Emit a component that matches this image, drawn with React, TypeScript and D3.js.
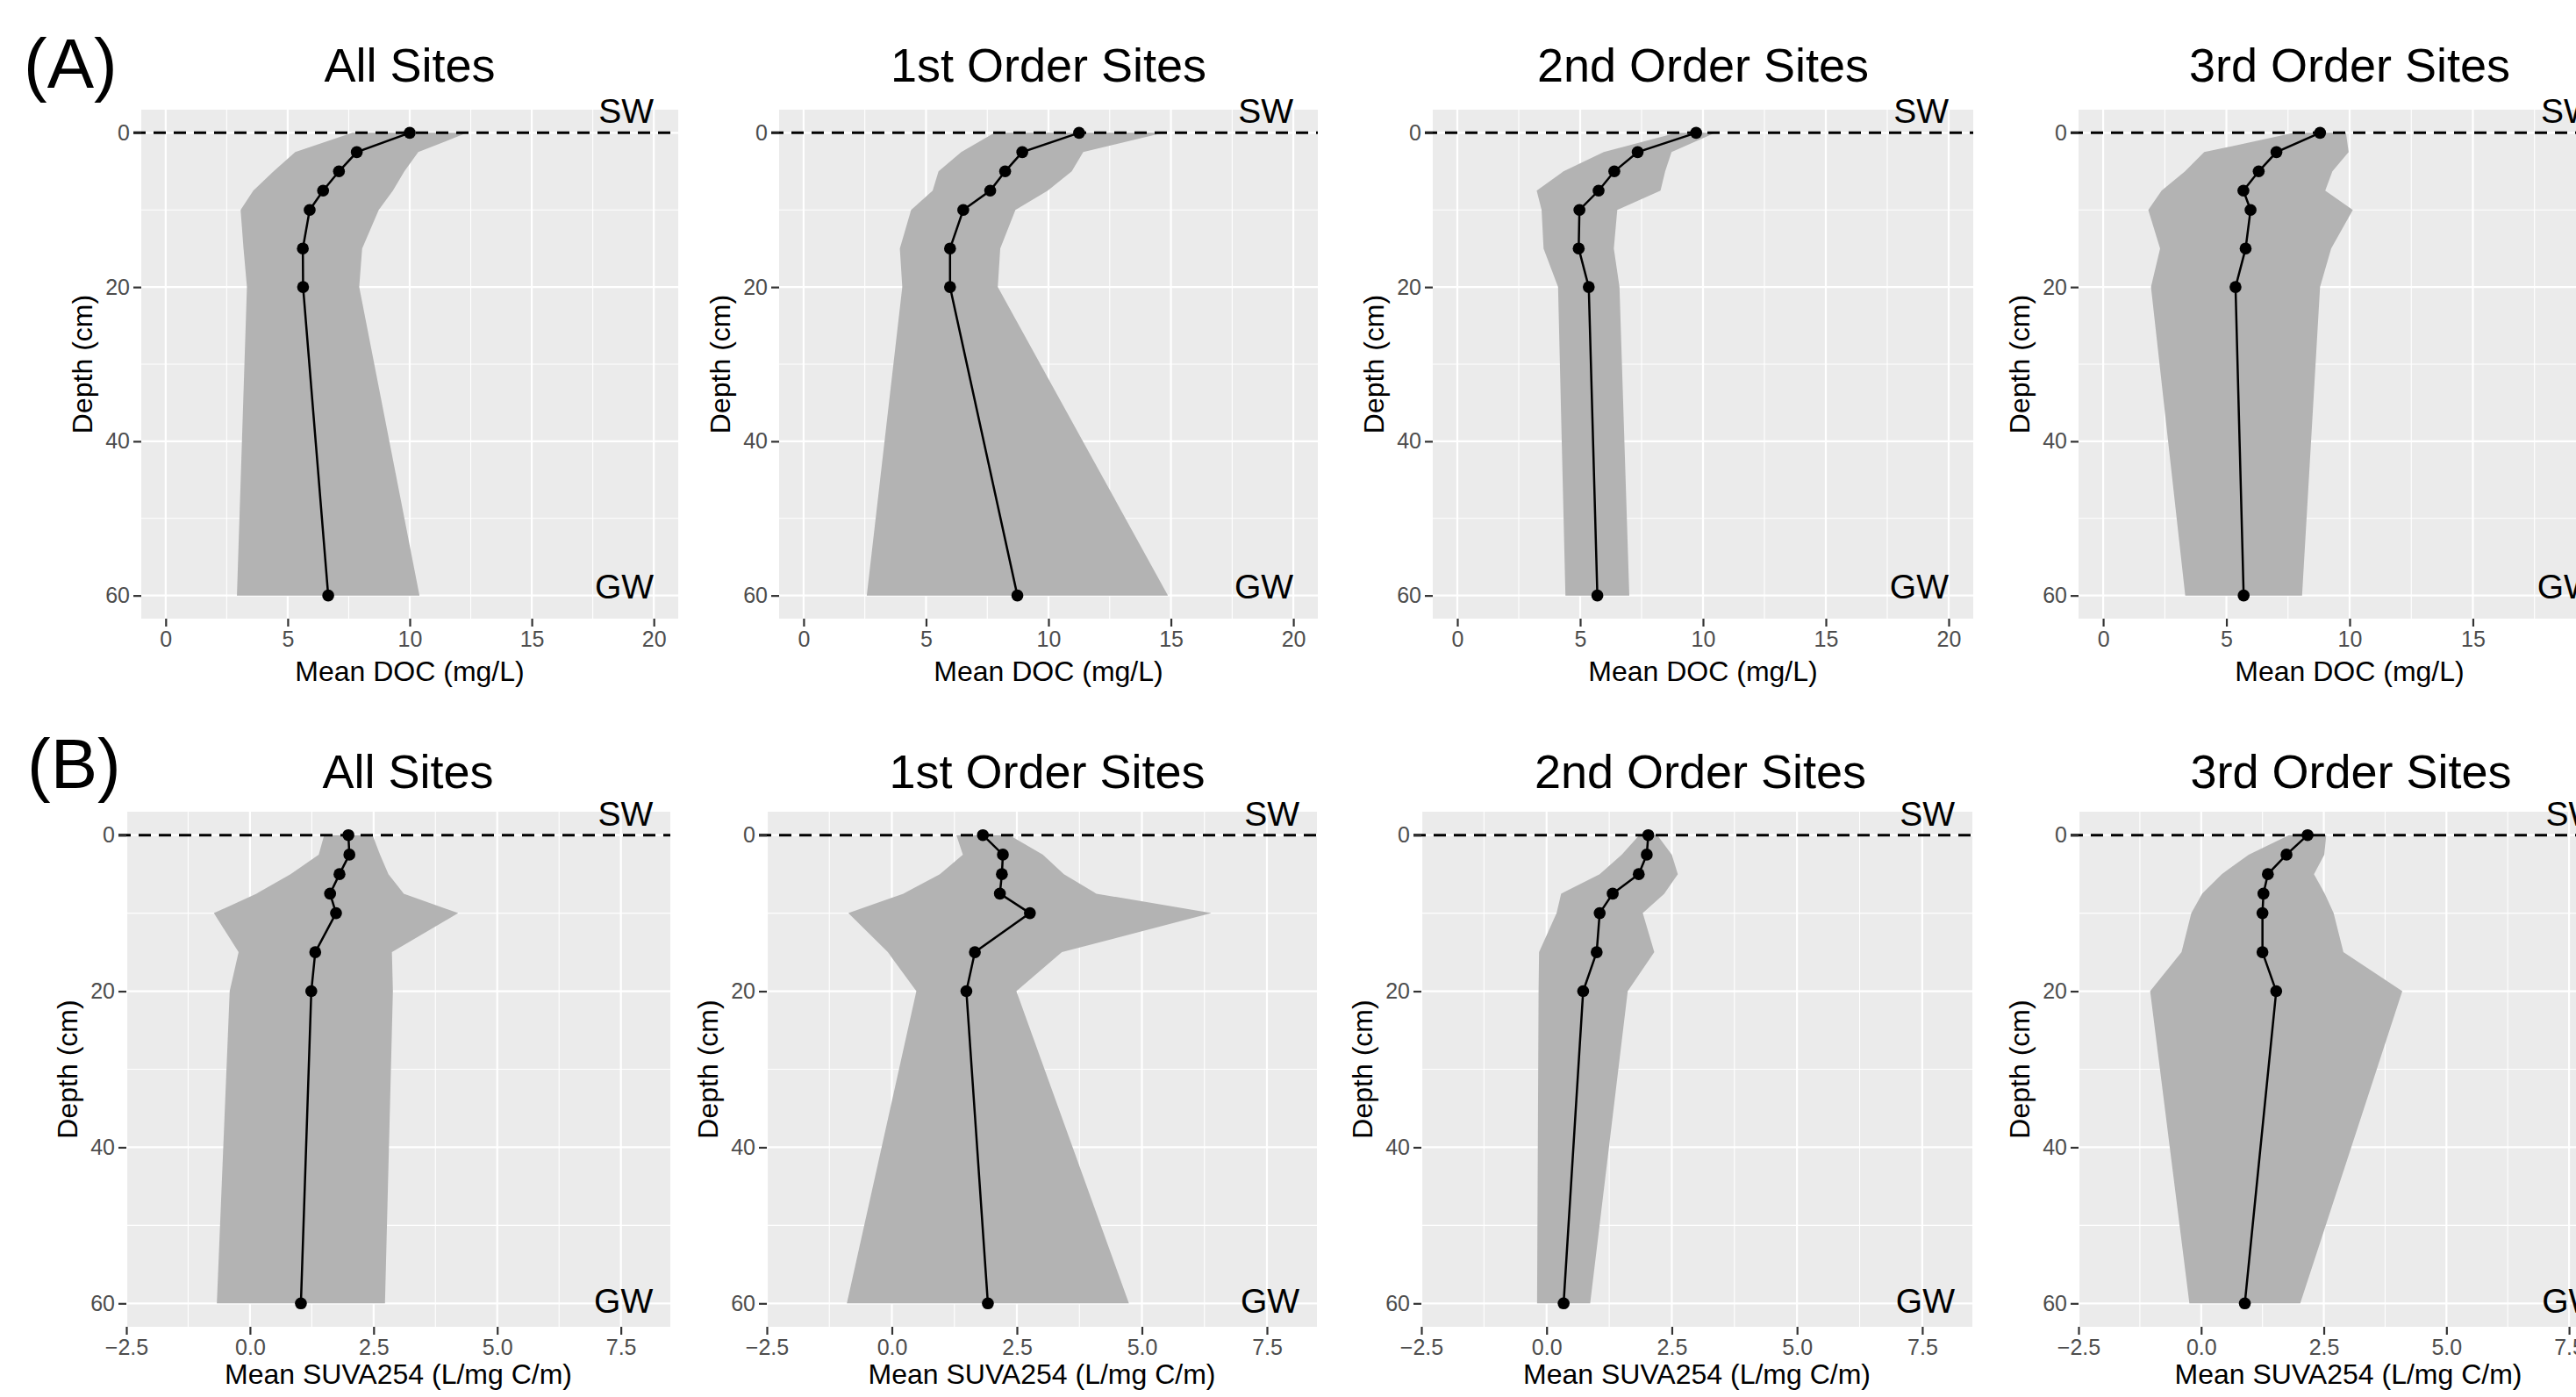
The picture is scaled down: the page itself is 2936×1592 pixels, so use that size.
import React, { useEffect, useRef } from 'react';
import * as d3 from 'd3';

// sampling depths (cm), shared by every profile
const depths = [0, 2.5, 5, 7.5, 10, 15, 20, 60];
const siteTitles = ['All Sites', '1st Order Sites', '2nd Order Sites', '3rd Order Sites'];

// (A) mean DOC (mg/L) and its spread, one pair per site group
const docMeanAll = [10.0, 7.83, 7.1, 6.45, 5.9, 5.62, 5.63, 6.66];
const docSdAll = [2.35, 2.52, 2.68, 2.86, 2.83, 2.43, 2.3, 3.74];
const docMeanFirst = [11.25, 8.93, 8.23, 7.62, 6.52, 5.98, 5.98, 8.73];
const docSdFirst = [3.45, 2.49, 2.72, 2.35, 2.13, 2.05, 1.95, 6.15];
const docMeanSecond = [9.72, 7.34, 6.39, 5.75, 4.97, 4.94, 5.35, 5.7];
const docSdSecond = [0.78, 1.38, 2.07, 2.52, 1.54, 1.43, 1.25, 1.3];
const docMeanThird = [8.8, 7.03, 6.31, 5.69, 5.98, 5.78, 5.37, 5.7];
const docSdThird = [1.05, 2.93, 2.99, 3.32, 4.15, 3.47, 3.43, 2.37];

// (B) mean SUVA254 (L/mg C/m) and its spread
const suvaMeanAll = [1.99, 2.01, 1.81, 1.62, 1.74, 1.32, 1.24, 1.03];
const suvaSdAll = [0.49, 0.62, 0.99, 1.49, 2.47, 1.55, 1.65, 1.7];
const suvaMeanFirst = [1.82, 2.22, 2.2, 2.16, 2.76, 1.66, 1.49, 1.92];
const suvaSdFirst = [0.53, 0.8, 1.24, 1.93, 3.63, 1.74, 1.0, 2.82];
const suvaMeanSecond = [2.03, 2.0, 1.84, 1.32, 1.06, 1.0, 0.73, 0.34];
const suvaSdSecond = [0.18, 0.5, 0.78, 1.03, 0.86, 1.15, 0.89, 0.53];
const suvaMeanThird = [2.17, 1.74, 1.36, 1.27, 1.25, 1.25, 1.53, 0.89];
const suvaSdThird = [0.38, 0.77, 0.94, 1.25, 1.45, 1.65, 2.57, 1.13];

// axis ticks
const depthTicks = [0, 20, 40, 60];
const depthMinor = [10, 30, 50];
const docTicks = [0, 5, 10, 15, 20];
const docMinor = [2.5, 7.5, 12.5, 17.5];
const suvaTicks = [-2.5, 0, 2.5, 5, 7.5];
const suvaMinor = [-1.25, 1.25, 3.75, 6.25];

const FONT = '"Liberation Sans", Arial, Helvetica, sans-serif';
const W = 2936;
const H = 1592;

function drawProfile(svg, cfg) {
    const { left, right, top, bottom } = cfg;

    const x = d3.scaleLinear().domain(cfg.xDomain).range([left, right]);
    const y = d3.scaleLinear().domain([-3, 63]).range([top, bottom]);

    const g = svg.append('g');

    // panel background + grid
    g.append('rect')
        .attr('x', left).attr('y', top)
        .attr('width', right - left).attr('height', bottom - top)
        .attr('fill', '#EBEBEB');

    g.selectAll('.xminor').data(cfg.xMinor).join('line')
        .attr('x1', d => x(d)).attr('x2', d => x(d))
        .attr('y1', top).attr('y2', bottom)
        .attr('stroke', '#fff').attr('stroke-width', 1.1);
    g.selectAll('.yminor').data(depthMinor).join('line')
        .attr('x1', left).attr('x2', right)
        .attr('y1', d => y(d)).attr('y2', d => y(d))
        .attr('stroke', '#fff').attr('stroke-width', 1.1);
    g.selectAll('.xmajor').data(cfg.xTicks).join('line')
        .attr('x1', d => x(d)).attr('x2', d => x(d))
        .attr('y1', top).attr('y2', bottom)
        .attr('stroke', '#fff').attr('stroke-width', 2.2);
    g.selectAll('.ymajor').data(depthTicks).join('line')
        .attr('x1', left).attr('x2', right)
        .attr('y1', d => y(d)).attr('y2', d => y(d))
        .attr('stroke', '#fff').attr('stroke-width', 2.2);

    const rows = depths.map((d, i) => ({ depth: d, mean: cfg.mean[i], sd: cfg.sd[i] }));

    // mean +/- sd ribbon
    const area = d3.area()
        .y(d => y(d.depth))
        .x0(d => x(d.mean - d.sd))
        .x1(d => x(d.mean + d.sd));
    g.append('path')
        .datum(rows)
        .attr('d', area)
        .attr('fill', '#B3B3B3');

    // mean profile
    const line = d3.line()
        .x(d => x(d.mean))
        .y(d => y(d.depth));
    g.append('path')
        .datum(rows)
        .attr('d', line)
        .attr('fill', 'none')
        .attr('stroke', '#000')
        .attr('stroke-width', 2.5);

    g.selectAll('.pt').data(rows).join('circle')
        .attr('cx', d => x(d.mean))
        .attr('cy', d => y(d.depth))
        .attr('r', 6.8)
        .attr('fill', '#000');

    // surface water line
    g.append('line')
        .attr('x1', left - 9).attr('x2', right)
        .attr('y1', y(0)).attr('y2', y(0))
        .attr('stroke', '#000')
        .attr('stroke-width', 3)
        .attr('stroke-dasharray', '14,9');

    g.append('text')
        .attr('x', x(cfg.labelX)).attr('y', y(0) - 11)
        .attr('text-anchor', 'end')
        .attr('font-family', FONT).attr('font-size', 39)
        .text('SW');
    g.append('text')
        .attr('x', x(cfg.labelX)).attr('y', y(60) + cfg.gwShift)
        .attr('text-anchor', 'end')
        .attr('font-family', FONT).attr('font-size', 39)
        .text('GW');

    // axes
    const yAxis = g.append('g')
        .attr('transform', `translate(${left},0)`)
        .call(d3.axisLeft(y).tickValues(depthTicks).tickSize(9).tickPadding(4));
    const xAxis = g.append('g')
        .attr('transform', `translate(0,${bottom})`)
        .call(d3.axisBottom(x).tickValues(cfg.xTicks).tickSize(9).tickPadding(5).tickFormat(cfg.xFormat));
    [xAxis, yAxis].forEach(ax => {
        ax.select('.domain').remove();
        ax.selectAll('line').attr('stroke', '#333').attr('stroke-width', 2.2);
        ax.selectAll('text')
            .attr('font-family', FONT)
            .attr('font-size', 25)
            .attr('fill', '#4D4D4D');
    });

    // axis titles
    g.append('text')
        .attr('x', (left + right) / 2).attr('y', bottom + cfg.xTitleGap)
        .attr('text-anchor', 'middle')
        .attr('font-family', FONT).attr('font-size', 32)
        .text(cfg.xLabel);
    g.append('text')
        .attr('transform', `translate(${left - 56},${(top + bottom) / 2}) rotate(-90)`)
        .attr('text-anchor', 'middle')
        .attr('font-family', FONT).attr('font-size', 32)
        .text('Depth (cm)');

    // panel title
    g.append('text')
        .attr('x', (left + right) / 2 + cfg.titleShift).attr('y', cfg.titleY)
        .attr('text-anchor', 'middle')
        .attr('font-family', FONT).attr('font-size', 54)
        .text(cfg.title);
}

export default function App() {
    const ref = useRef(null);

    useEffect(() => {
        const svg = d3.select(ref.current);
        svg.selectAll('*').remove();

        svg.append('rect').attr('width', W).attr('height', H).attr('fill', '#fff');

        const docMeans = [docMeanAll, docMeanFirst, docMeanSecond, docMeanThird];
        const docSds = [docSdAll, docSdFirst, docSdSecond, docSdThird];
        const suvaMeans = [suvaMeanAll, suvaMeanFirst, suvaMeanSecond, suvaMeanThird];
        const suvaSds = [suvaSdAll, suvaSdFirst, suvaSdSecond, suvaSdThird];

        // panel frames, each subplot was pasted in at its own spot
        const aFrames = [[161, 773], [888, 1502], [1633, 2249], [2369, 2987]];
        const bFrames = [[144, 764], [874, 1501], [1620, 2248], [2369, 2984]];
        const bTitleShift = [11, 6, 4, 3];

        aFrames.forEach((f, i) => drawProfile(svg, {
            left: f[0], right: f[1], top: 125, bottom: 705,
            xDomain: [-1, 21], xTicks: docTicks, xMinor: docMinor,
            xFormat: d3.format('d'),
            mean: docMeans[i], sd: docSds[i],
            title: siteTitles[i], titleY: 93, titleShift: 0,
            xLabel: 'Mean DOC (mg/L)', xTitleGap: 71,
            labelX: 20, gwShift: 3,
        }));

        bFrames.forEach((f, i) => drawProfile(svg, {
            left: f[0], right: f[1], top: 925, bottom: 1512,
            xDomain: [-2.5, 8.5], xTicks: suvaTicks, xMinor: suvaMinor,
            xFormat: d3.format('.1f'),
            mean: suvaMeans[i], sd: suvaSds[i],
            title: siteTitles[i], titleY: 898, titleShift: bTitleShift[i],
            xLabel: 'Mean SUVA254 (L/mg C/m)', xTitleGap: 65,
            labelX: 8.15, gwShift: 11,
        }));

        // figure part labels
        svg.append('text').attr('x', 27).attr('y', 100)
            .attr('font-family', FONT).attr('font-size', 80).text('(A)');
        svg.append('text').attr('x', 31).attr('y', 898)
            .attr('font-family', FONT).attr('font-size', 80).text('(B)');
    }, []);

    return (
        <svg ref={ref} width={W} height={H}
            style={{ position: 'absolute', left: 0, top: 0, display: 'block' }} />
    );
}
